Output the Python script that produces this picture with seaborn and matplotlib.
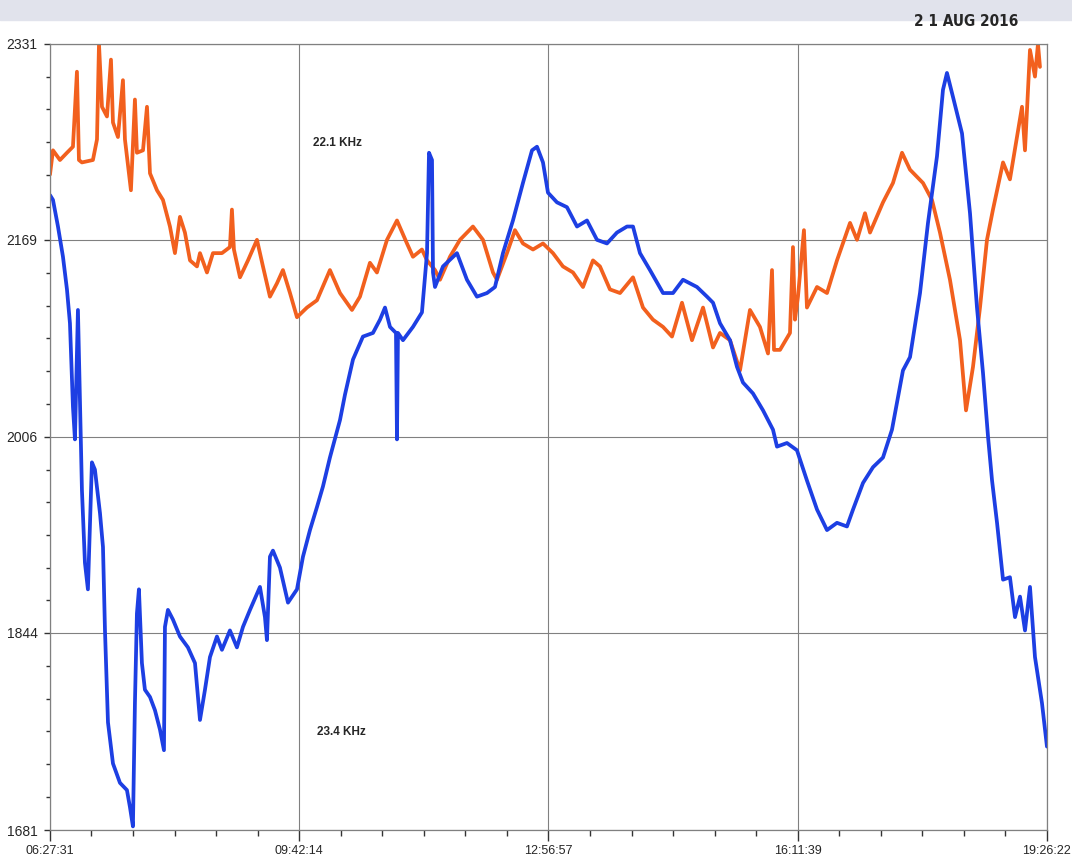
import numpy as np
import pandas as pd
import matplotlib.pyplot as plt
from matplotlib.patches import Rectangle
from matplotlib.ticker import FixedLocator
import seaborn as sns

# time in decimal hours (UT), signal level in receiver units
orange_time = [6.459, 6.498, 6.589, 6.680, 6.758, 6.810, 6.836, 6.875, 7.018, 7.071,
               7.097, 7.136, 7.201, 7.253, 7.279, 7.344, 7.409, 7.435, 7.513, 7.565,
               7.591, 7.670, 7.722, 7.761, 7.852, 7.930, 8.021, 8.086, 8.151, 8.216,
               8.282, 8.373, 8.412, 8.503, 8.581, 8.698, 8.802, 8.828, 8.854, 8.933,
               9.037, 9.154, 9.232, 9.323, 9.414, 9.492, 9.584, 9.675, 9.805, 9.935,
               10.104, 10.235, 10.391, 10.495, 10.625, 10.716, 10.847, 10.977, 11.107, 11.185,
               11.302, 11.368, 11.472, 11.537, 11.667, 11.797, 11.966, 12.097, 12.227, 12.279,
               12.409, 12.513, 12.617, 12.748, 12.878, 13.008, 13.138, 13.269, 13.399, 13.529,
               13.620, 13.750, 13.881, 14.050, 14.180, 14.310, 14.441, 14.558, 14.688, 14.818,
               14.962, 15.092, 15.183, 15.313, 15.443, 15.573, 15.703, 15.808, 15.860, 15.886,
               15.964, 16.094, 16.133, 16.159, 16.198, 16.276, 16.315, 16.446, 16.576, 16.706,
               16.876, 16.967, 17.071, 17.136, 17.305, 17.435, 17.553, 17.657, 17.826, 17.943,
               18.047, 18.177, 18.308, 18.386, 18.477, 18.568, 18.659, 18.737, 18.868, 18.958,
               19.115, 19.154, 19.219, 19.284, 19.323, 19.349]
orange_level = [2223, 2243, 2235, 2241, 2246, 2308, 2235, 2233, 2235, 2252,
                2331, 2279, 2271, 2318, 2266, 2254, 2301, 2252, 2210, 2285,
                2241, 2243, 2279, 2224, 2210, 2202, 2180, 2158, 2188, 2175,
                2152, 2147, 2158, 2142, 2158, 2158, 2163, 2194, 2161, 2138,
                2152, 2169, 2147, 2122, 2133, 2144, 2125, 2105, 2113, 2119,
                2144, 2125, 2111, 2122, 2150, 2142, 2169, 2185, 2166, 2155,
                2161, 2152, 2144, 2136, 2155, 2169, 2180, 2169, 2142, 2136,
                2158, 2177, 2166, 2161, 2166, 2158, 2147, 2142, 2130, 2152,
                2147, 2128, 2125, 2138, 2113, 2103, 2097, 2089, 2117, 2086,
                2113, 2080, 2092, 2086, 2061, 2111, 2097, 2075, 2144, 2078,
                2078, 2092, 2163, 2103, 2122, 2177, 2113, 2130, 2125, 2152,
                2183, 2169, 2191, 2175, 2200, 2216, 2241, 2227, 2216, 2202,
                2175, 2136, 2086, 2028, 2064, 2113, 2169, 2194, 2233, 2219,
                2279, 2243, 2326, 2304, 2331, 2312]

blue_time = [6.459, 6.498, 6.563, 6.628, 6.680, 6.719, 6.758, 6.784, 6.823, 6.875,
             6.914, 6.953, 7.005, 7.044, 7.110, 7.149, 7.175, 7.214, 7.279, 7.370,
             7.461, 7.500, 7.539, 7.565, 7.591, 7.617, 7.656, 7.695, 7.761, 7.826,
             7.891, 7.943, 7.956, 7.995, 8.060, 8.151, 8.255, 8.347, 8.412, 8.477,
             8.542, 8.633, 8.698, 8.802, 8.893, 8.972, 9.063, 9.193, 9.258, 9.284,
             9.323, 9.362, 9.453, 9.558, 9.675, 9.753, 9.844, 9.935, 10.013, 10.104,
             10.235, 10.300, 10.404, 10.534, 10.664, 10.756, 10.821, 10.886, 10.964, 10.977,
             10.990, 11.055, 11.185, 11.302, 11.368, 11.394, 11.433, 11.446, 11.472, 11.576,
             11.758, 11.888, 12.018, 12.149, 12.253, 12.357, 12.487, 12.617, 12.735, 12.800,
             12.878, 12.943, 13.060, 13.190, 13.321, 13.451, 13.581, 13.711, 13.841, 13.972,
             14.050, 14.141, 14.271, 14.441, 14.571, 14.701, 14.883, 15.014, 15.092, 15.183,
             15.313, 15.404, 15.482, 15.612, 15.743, 15.873, 15.925, 16.055, 16.185, 16.315,
             16.446, 16.576, 16.706, 16.836, 16.915, 17.045, 17.175, 17.305, 17.422, 17.565,
             17.657, 17.787, 17.891, 18.008, 18.086, 18.138, 18.217, 18.334, 18.438, 18.529,
             18.607, 18.673, 18.725, 18.790, 18.868, 18.958, 19.024, 19.089, 19.154, 19.219,
             19.284, 19.375, 19.440]
blue_level = [2206, 2202, 2180, 2155, 2128, 2100, 2031, 2004, 2111, 1962,
              1902, 1880, 1985, 1979, 1943, 1915, 1846, 1770, 1736, 1720,
              1714, 1700, 1684, 1786, 1860, 1880, 1819, 1797, 1791, 1780,
              1764, 1747, 1849, 1863, 1855, 1841, 1832, 1819, 1772, 1797,
              1824, 1841, 1830, 1846, 1832, 1849, 1863, 1882, 1857, 1838,
              1907, 1912, 1898, 1869, 1880, 1907, 1929, 1948, 1965, 1989,
              2020, 2041, 2070, 2089, 2092, 2103, 2113, 2097, 2092, 2004,
              2092, 2086, 2097, 2109, 2158, 2241, 2235, 2142, 2130, 2147,
              2158, 2136, 2122, 2125, 2130, 2158, 2185, 2216, 2243, 2246,
              2233, 2208, 2200, 2196, 2180, 2185, 2169, 2166, 2175, 2180,
              2180, 2158, 2144, 2125, 2125, 2136, 2130, 2122, 2117, 2100,
              2086, 2064, 2051, 2042, 2028, 2012, 1998, 2001, 1995, 1970,
              1946, 1929, 1935, 1932, 1946, 1968, 1981, 1989, 2012, 2061,
              2072, 2125, 2183, 2238, 2293, 2307, 2287, 2257, 2191, 2113,
              2059, 2006, 1970, 1935, 1888, 1890, 1857, 1874, 1846, 1882,
              1824, 1786, 1750]

x_labels = ["06:27:31", "09:42:14", "12:56:57", "16:11:39", "19:26:22"]
y_labels = ["1681", "1844", "2006", "2169", "2331"]


def to_hours(s):
    h, m, sec = [int(p) for p in s.split(":")]
    return h + m / 60 + sec / 3600


df_orange = pd.DataFrame({"time": orange_time, "level": orange_level})
df_blue = pd.DataFrame({"time": blue_time, "level": blue_level})

sns.set_style("white")
plt.rcParams["font.family"] = ["Liberation Sans", "DejaVu Sans"]

fig = plt.figure(figsize=(10.72, 8.61), dpi=100)
ax = fig.add_axes([0.0466, 0.036, 0.930, 0.913])

# scanned paper band at the top
fig.patches.append(Rectangle((0, 0.977), 1, 0.023, transform=fig.transFigure,
                             color="#e1e3ec", zorder=0))

sns.lineplot(data=df_orange, x="time", y="level", ax=ax, color="#f2601e",
             linewidth=2.7, estimator=None, sort=False)
sns.lineplot(data=df_blue, x="time", y="level", ax=ax, color="#1d3fe3",
             linewidth=2.7, estimator=None, sort=False)

xt = [to_hours(s) for s in x_labels]
yt = [float(v) for v in y_labels]
ax.set_xlim(xt[0], xt[-1])
ax.set_ylim(yt[0], yt[-1])
ax.set_xticks(xt)
ax.set_xticklabels(x_labels, fontsize=9)
ax.set_yticks(yt)
ax.set_yticklabels(y_labels, fontsize=10)
ax.xaxis.set_minor_locator(FixedLocator(
    [a + (b - a) * k / 6 for a, b in zip(xt[:-1], xt[1:]) for k in range(1, 6)]))
ax.yaxis.set_minor_locator(FixedLocator(
    [a + (b - a) * k / 6 for a, b in zip(yt[:-1], yt[1:]) for k in range(1, 6)]))
ax.tick_params(axis="x", which="major", direction="out", length=8, width=1,
               color="#333333", pad=3, bottom=True)
ax.tick_params(axis="x", which="minor", direction="out", length=4, width=1,
               color="#333333", bottom=True)
ax.tick_params(axis="y", which="major", direction="out", length=4, width=1,
               color="#333333", pad=5, left=True)
ax.tick_params(axis="y", which="minor", direction="out", length=3, width=1,
               color="#333333", left=True)
ax.grid(True, which="major", color="#808080", linewidth=0.8)
for sp in ax.spines.values():
    sp.set_color("#808080")
    sp.set_linewidth(0.9)
ax.set_xlabel("")
ax.set_ylabel("")

ax.text(to_hours("09:53:00"), 2249, "22.1 KHz", fontsize=8.5, fontweight="bold",
        va="center", ha="left")
ax.text(to_hours("09:56:00"), 1762, "23.4 KHz", fontsize=8.5, fontweight="bold",
        va="center", ha="left")
fig.text(0.95, 0.975, "2 1 AUG 2016", fontsize=11, fontweight="bold",
         ha="right", va="center", family=["DejaVu Sans", "Liberation Sans"],
         fontstretch="condensed")

fig.savefig("out.png", dpi=100)
